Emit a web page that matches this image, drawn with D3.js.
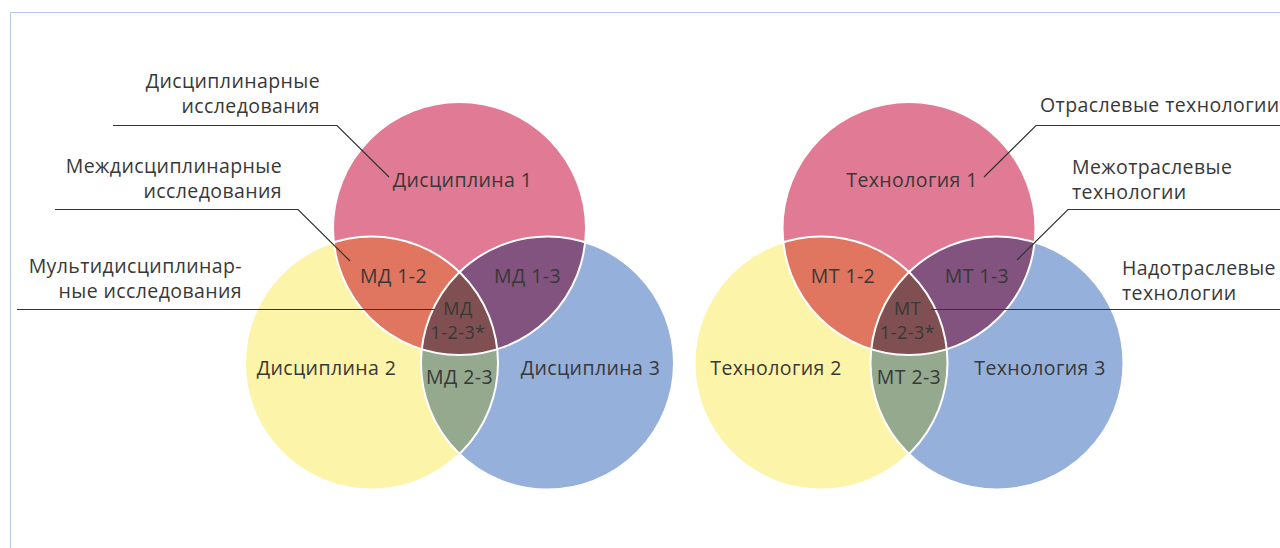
<!DOCTYPE html>
<html>
<head>
<meta charset="utf-8">
<script src="https://cdn.jsdelivr.net/npm/d3@7"></script>
<style>
	body { margin:0; background:#fff; }
	svg text { font-family:"Open Sans", sans-serif; fill:#383838; letter-spacing:0.4px; }
</style>
</head>
<body>
<div id="chart"></div>
<script>

// labels of the three sets, pairs and the core, for both diagrams
var setLabelsLeft = ["Дисциплина 1","Дисциплина 2","Дисциплина 3"];
var pairLabelsLeft = ["МД 1-2","МД 1-3","МД 2-3"];
var coreLabelLeft = ["МД","1-2-3*"];

var setLabelsRight = ["Технология 1","Технология 2","Технология 3"];
var pairLabelsRight = ["МТ 1-2","МТ 1-3","МТ 2-3"];
var coreLabelRight = ["МТ","1-2-3*"];

// callout texts (one array per line group)
var notesLeft = [
	["Дисциплинарные","исследования"],
	["Междисциплинарные","исследования"],
	["Мультидисциплинар-","ные исследования"]
];
var notesRight = [
	["Отраслевые технологии"],
	["Межотраслевые","технологии"],
	["Надотраслевые","технологии"]
];

// colours
var setColors = ["#e17a94","#fcf4a8","#95b0db"];
var pairColors = ["#e07660","#82537e","#95a98f"];
var coreColor = "#804f51";


/**
 *	layout
 */
var width = 1280, height = 548;
var r = 126.5;
var fontSize = "19.5px";
// circle centres relative to the top circle
var centres = [[0,0],[-88,134.5],[88,134.5]];
var pairs = [[0,1],[0,2],[1,2]];
// label anchors relative to the top circle centre
var setPos = [[3,-41.5],[-133,146.5],[131,146.5]];
var pairPos = [[-66,54.5],[68,54.5],[0,155.5]];
var corePos = [[-1.5,86],[-1.5,110.5]];

var svg = d3.select("#chart").append("svg")
	.attr("width", width)
	.attr("height", height);

var defs = svg.append("defs");

// thin frame on the left and top
svg.append("path")
	.attr("d", "M10.5," + height + "V12.5H" + width)
	.attr("fill", "none")
	.attr("stroke", "#b7c9ea")
	.attr("stroke-width", 1);

var lineGen = d3.line();

function draw_venn(id, ox, oy, setLabels, pairLabels, coreLabel){

	var g = svg.append("g").attr("transform", "translate(" + [ox, oy] + ")");

	// clip paths, one per circle
	centres.forEach(function(c, i){
		defs.append("clipPath")
			.attr("id", id + "c" + i)
			.append("circle")
			.attr("cx", ox + c[0]).attr("cy", oy + c[1]).attr("r", r);
	});

	// whole circles
	g.selectAll("circle.set")
		.data(centres)
		.enter().append("circle")
		.attr("class", "set")
		.attr("cx", function(d){ return d[0]; })
		.attr("cy", function(d){ return d[1]; })
		.attr("r", r)
		.attr("fill", function(d, i){ return setColors[i]; });

	// pairwise overlaps: circle b clipped by circle a
	pairs.forEach(function(p, i){
		svg.append("circle")
			.attr("cx", ox + centres[p[1]][0])
			.attr("cy", oy + centres[p[1]][1])
			.attr("r", r)
			.attr("clip-path", "url(#" + id + "c" + p[0] + ")")
			.attr("fill", pairColors[i]);
	});

	// core: circle 3 inside circles 1 and 2
	svg.append("g")
		.attr("clip-path", "url(#" + id + "c0)")
		.append("circle")
		.attr("cx", ox + centres[2][0])
		.attr("cy", oy + centres[2][1])
		.attr("r", r)
		.attr("clip-path", "url(#" + id + "c1)")
		.attr("fill", coreColor);

	var g2 = svg.append("g").attr("transform", "translate(" + [ox, oy] + ")");

	// white outlines
	g2.selectAll("circle.edge")
		.data(centres)
		.enter().append("circle")
		.attr("cx", function(d){ return d[0]; })
		.attr("cy", function(d){ return d[1]; })
		.attr("r", r)
		.attr("fill", "none")
		.attr("stroke", "#fff")
		.attr("stroke-width", 2);

	// labels
	var labels = setLabels.map(function(t, i){ return { t:t, p:setPos[i], s:fontSize }; })
		.concat(pairLabels.map(function(t, i){ return { t:t, p:pairPos[i], s:fontSize }; }))
		.concat(coreLabel.map(function(t, i){ return { t:t, p:corePos[i], s:"18px" }; }));

	g2.selectAll("text")
		.data(labels)
		.enter().append("text")
		.attr("x", function(d){ return d.p[0]; })
		.attr("y", function(d){ return d.p[1]; })
		.attr("text-anchor", "middle")
		.attr("font-size", function(d){ return d.s; })
		.text(function(d){ return d.t; });
}

draw_venn("L", 459.5, 228.5, setLabelsLeft, pairLabelsLeft, coreLabelLeft);
draw_venn("R", 909, 228.5, setLabelsRight, pairLabelsRight, coreLabelRight);


/**
 *	callouts
 */
// text anchor point (x, first baseline) and leader line points
var calloutsLeft = [
	{ x:320, y:88, anchor:"end", line:[[113,125.5],[337,125.5],[389,177]] },
	{ x:282, y:173, anchor:"end", line:[[55,209.5],[298,209.5],[350,261]] },
	{ x:242, y:273, anchor:"end", line:[[17,309.5],[435,309.5]] }
];
var calloutsRight = [
	{ x:1040, y:112, anchor:"start", line:[[984,177],[1036,125.5],[1280,125.5]] },
	{ x:1072, y:174, anchor:"start", line:[[1017,260],[1068,209.5],[1280,209.5]] },
	{ x:1122, y:275, anchor:"start", line:[[931,309.5],[1280,309.5]] }
];

function draw_callouts(notes, callouts){
	callouts.forEach(function(c, i){
		svg.append("path")
			.attr("d", lineGen(c.line))
			.attr("fill", "none")
			.attr("stroke", "#333")
			.attr("stroke-width", 1.2);

		var t = svg.append("text")
			.attr("text-anchor", c.anchor)
			.attr("font-size", fontSize);
		t.selectAll("tspan")
			.data(notes[i])
			.enter().append("tspan")
			.attr("x", c.x)
			.attr("y", function(d, j){ return c.y + j * 24.5; })
			.text(function(d){ return d; });
	});
}

draw_callouts(notesLeft, calloutsLeft);
draw_callouts(notesRight, calloutsRight);

</script>
</body>
</html>
